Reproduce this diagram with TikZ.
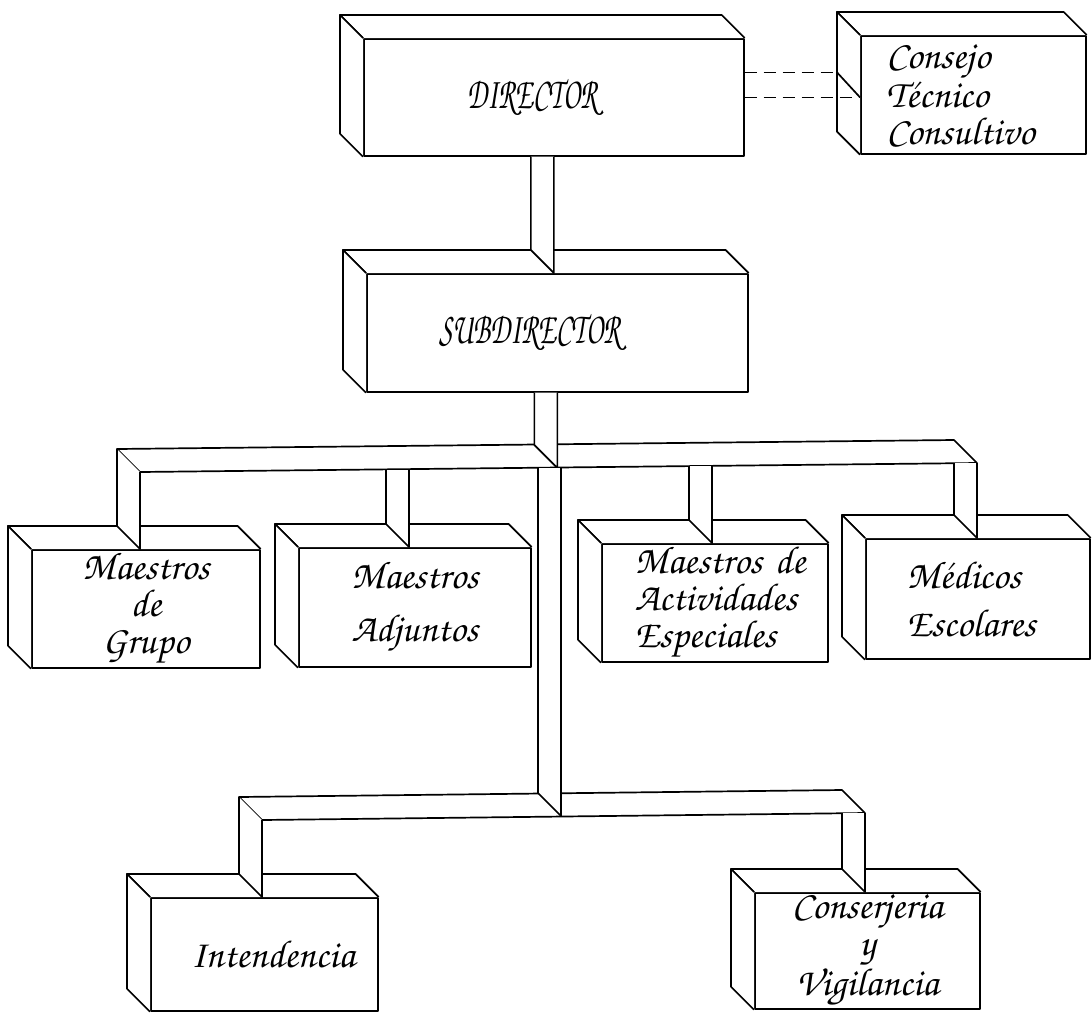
\documentclass[tikz,border=0pt]{standalone}
\usepackage[T1]{fontenc}
\usetikzlibrary{calc}
\newcommand{\letra}{\fontfamily{pzc}\fontseries{mb}\fontshape{it}\fontsize{39}{37}\selectfont}
\newcommand{\mayus}{\fontfamily{pzc}\fontseries{mb}\fontshape{it}\fontsize{30}{33}\selectfont}
\tikzstyle{caja} = [rectangle, draw=black, fill=white, inner sep=0pt, anchor=north west, font=\letra]
\tikzstyle{viga} = [draw=black, fill=white]
\tikzstyle{enlace} = [dash pattern=on 12pt off 7pt]
% top and left faces of a box
\newcommand{\fondo}[1]{%
  \draw[viga] (#1.north west) -- ++(-23,-23) -- ($(#1.north east)+(-23,-23)$) -- (#1.north east);
  \draw[viga] (#1.north west) -- ++(-23,-23) -- ($(#1.south west)+(-23,-23)$) -- (#1.south west);}
\begin{document}
\begin{tikzpicture}[x=1pt, y=-1pt, line width=1.7pt, line join=round]

	\fill[white] (0,0) rectangle (1092,1013);
	\useasboundingbox (0,0) rectangle (1092,1013);

	% boxes
	\node (director) [caja, minimum width=380pt, minimum height=117pt, text width=172pt, align=left, font=\mayus] at (363,38) {\scalebox{0.95}[1.5]{DIRECTOR}};
	\node (consejo) [caja, minimum width=225pt, minimum height=118pt, text width=174pt, align=left] at (860,35) {Consejo\\T\'ecnico\\Consultivo};
	\node (subdirector) [caja, minimum width=381pt, minimum height=118pt, text width=236pt, align=left, font=\mayus] at (366,273) {\scalebox{0.95}[1.5]{SUBDIRECTOR}};
	\node (grupo) [caja, minimum width=228pt, minimum height=118pt, align=center] at (31,549) {Maestros\\de\\Grupo};
	\node (adjuntos) [caja, minimum width=232pt, minimum height=119pt, align=center] at (298,547) {Maestros\\[16pt]Adjuntos};
	\node (actividades) [caja, minimum width=226pt, minimum height=118pt, text width=160pt, align=left] at (601,543) {Maestros~de\\Actividades\\Especiales};
	\node (medicos) [caja, minimum width=224pt, minimum height=120pt, text width=142pt, align=left] at (865,538) {M\'edicos\\[11pt]Escolares};
	\node (intendencia) [caja, minimum width=227pt, minimum height=113pt, text width=147pt, align=left] at (150,897) {Intendencia};
	\node (conserjeria) [caja, minimum width=225pt, minimum height=116pt, align=center] at (754,892) {Conserjeria\\y\\Vigilancia};

	\fondo{director}
	\fondo{consejo}
	\fondo{subdirector}
	\fondo{grupo}
	\fondo{adjuntos}
	\fondo{actividades}
	\fondo{medicos}
	\fondo{intendencia}
	\fondo{conserjeria}

	% beams
	\coordinate (f1) at (140,472);
	\coordinate (f2) at (409,470);
	\coordinate (f3) at (712,466);
	\coordinate (f4) at (977,463);
	\coordinate (t1) at (561,468);
	\coordinate (t2) at (561,816);
	\coordinate (h1) at (262,820);
	\coordinate (h2) at (865,813);

	\draw [viga] (director.south) -- (director.south |- subdirector.north) -- ++(-23,-23) -- ($(director.south)+(-23,0)$);
	\draw [viga] ($(f1)+(-23,-23)$) -- ($(f4)+(-23,-23)$) -- (f4) -- (f1) -- cycle;
	\draw [viga] (subdirector.south) -- (subdirector.south |- t1) -- ++(-23,-23) -- ($(subdirector.south)+(-23,0)$);
	\draw [viga] ($(f1)+(-23,-23)$) -- ($(f1 |- grupo.north)+(-23,-23)$) -- (f1 |- grupo.north) -- (f1);
	\draw [viga] (f2) -- (f2 |- adjuntos.north) -- ++(-23,-23) -- ($(f2)+(-23,0)$);
	\draw [viga] (f3) -- (f3 |- actividades.north) -- ++(-23,-23) -- ($(f3)+(-23,0)$);
	\draw [viga] (f4) -- (f4 |- medicos.north) -- ++(-23,-23) -- ($(f4)+(-23,0)$);
	\draw [viga] ($(h1)+(-23,-23)$) -- ($(h2)+(-23,-23)$) -- (h2) -- (h1) -- cycle;
	\draw [viga] (t1) -- (t2) -- ++(-23,-23) -- ($(t1)+(-23,0)$);
	\draw [viga] ($(h1)+(-23,-23)$) -- ($(h1 |- intendencia.north)+(-23,-23)$) -- (h1 |- intendencia.north) -- (h1);
	\draw [viga] (h2) -- (h2 |- conserjeria.north) -- ++(-23,-23) -- ($(h2)+(-23,0)$);

	% advisory link
	\coordinate (d1) at ($(director.east)+(0,-25)$);
	\draw [enlace] (director.east) -- (director.east -| consejo.west);
	\draw [enlace] (d1) -- ($(d1 -| consejo.west)+(-23,0)$);
	\draw ($(d1 -| consejo.west)+(-23,0)$) -- (director.east -| consejo.west);

\end{tikzpicture}
\end{document}
